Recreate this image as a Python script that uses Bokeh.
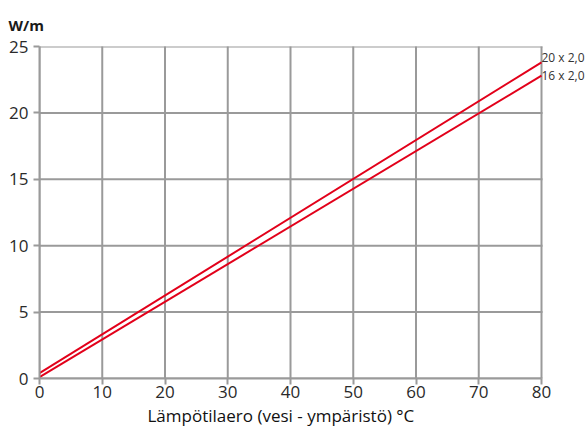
from bokeh.plotting import figure
from bokeh.models import Label, Range1d, FixedTicker, Title
from bokeh.embed import file_html
from bokeh.resources import INLINE

# Data
x_vals = [0, 80]
series_20 = [0.4, 23.8]
series_16 = [0.1, 22.8]
series_labels = ["20 x 2,0", "16 x 2,0"]
x_ticks = [0, 10, 20, 30, 40, 50, 60, 70, 80]
y_ticks = [0, 5, 10, 15, 20, 25]
x_title = "Lämpötilaero (vesi - ympäristö) °C"
y_title = "W/m"

GRID = "#9a9a9a"
RED = "#e2001a"
FONT = "Open Sans"
X_MAX = 80
Y_MAX = 25

p = figure(width=587, height=431, output_backend="svg", toolbar_location=None,
           x_range=Range1d(0, 87.33), y_range=Range1d(0, Y_MAX),
           min_border_left=39, min_border_right=0, min_border_top=46, min_border_bottom=53)
p.outline_line_color = None
p.background_fill_color = "white"
p.xgrid.visible = False
p.ygrid.visible = False

for ax, ticks in ((p.xaxis, x_ticks), (p.yaxis, y_ticks)):
    ax.ticker = FixedTicker(ticks=ticks)
    ax.axis_line_color = GRID
    ax.axis_line_width = 2
    ax.major_tick_line_color = GRID
    ax.major_tick_line_width = 2
    ax.major_tick_out = 6
    ax.major_tick_in = 0
    ax.minor_tick_line_color = None
    ax.major_label_text_font = FONT
    ax.major_label_text_font_size = "17px"
    ax.major_label_text_color = "#2a2a2a"
    ax.major_label_text_font_style = "normal"

p.xaxis.bounds = (0, X_MAX)
p.xaxis.major_label_standoff = 1
p.yaxis.major_label_standoff = 5

# grid lines drawn from tick lists
p.segment(x0=x_ticks, y0=[0] * len(x_ticks), x1=x_ticks, y1=[Y_MAX] * len(x_ticks),
          line_color=GRID, line_width=2, line_cap="square")
p.segment(x0=[0] * len(y_ticks), y0=y_ticks, x1=[X_MAX] * len(y_ticks), y1=y_ticks,
          line_color=GRID, line_width=2, line_cap="square")

p.line(x_vals, series_20, line_color=RED, line_width=2)
p.line(x_vals, series_16, line_color=RED, line_width=2)

p.add_layout(Label(x=x_vals[-1], y=series_20[-1], text=series_labels[0], x_offset=0, y_offset=5,
                   text_font=FONT, text_font_size="12px", text_color="#333333",
                   text_baseline="middle"))
p.add_layout(Label(x=x_vals[-1], y=series_16[-1], text=series_labels[1], x_offset=0, y_offset=0,
                   text_font=FONT, text_font_size="12px", text_color="#333333",
                   text_baseline="middle"))

p.title.text = y_title
p.title.align = "left"
p.title.offset = -31
p.title.text_font = FONT
p.title.text_font_size = "15px"
p.title.text_font_style = "bold"
p.title.text_color = "#1a1a1a"
p.title.standoff = 24

p.add_layout(Title(text=x_title, align="left", offset=108, text_font=FONT,
                   text_font_size="17px", text_font_style="normal",
                   text_color="#111111", standoff=2), "below")

open("out.html", "w").write(file_html(p, INLINE))
